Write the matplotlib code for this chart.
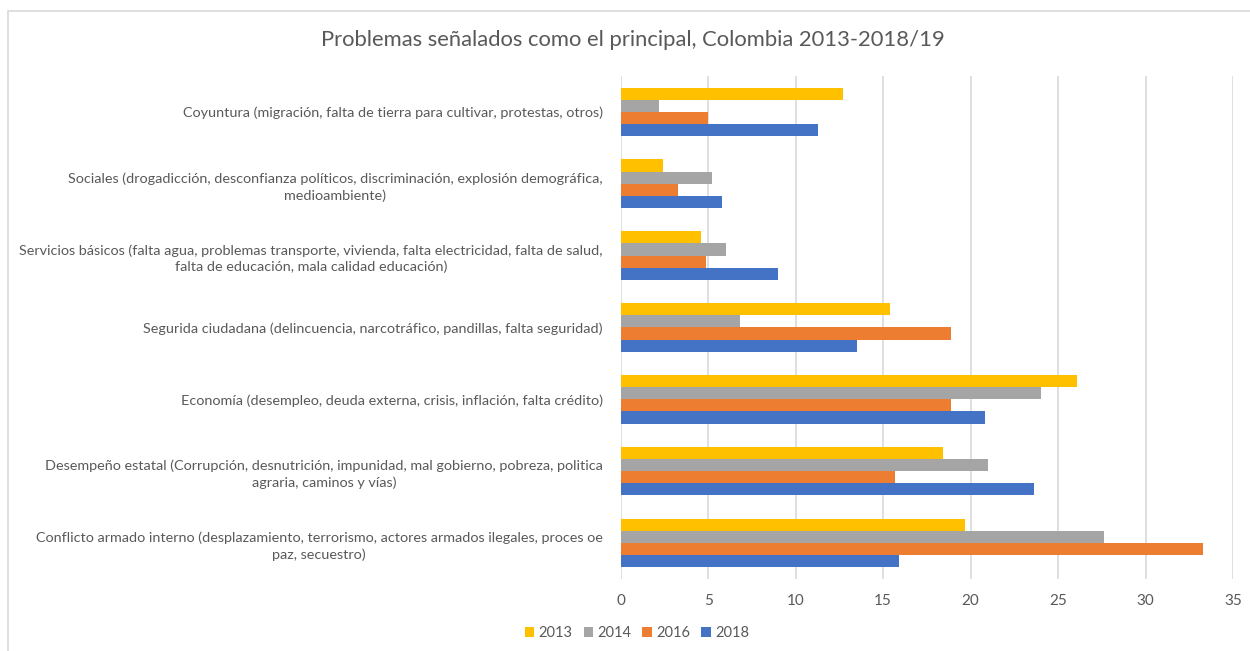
import matplotlib.pyplot as plt
import numpy as np
from matplotlib.patches import Patch, Rectangle

plt.rcParams['font.family'] = ['Lato', 'DejaVu Sans']

# categories, top to bottom
categories = [
    'Coyuntura (migración, falta de tierra para cultivar, protestas, otros)',
    'Sociales (drogadicción, desconfianza políticos, discriminación, explosión demográfica,\nmedioambiente)',
    'Servicios básicos (falta agua, problemas transporte, vivienda, falta electricidad, falta de salud,\nfalta de educación, mala calidad educación)',
    'Segurida ciudadana (delincuencia, narcotráfico, pandillas, falta seguridad)',
    'Economía (desempleo, deuda externa, crisis, inflación, falta crédito)',
    'Desempeño estatal (Corrupción, desnutrición, impunidad, mal gobierno, pobreza, politica\nagraria, caminos y vías)',
    'Conflicto armado interno (desplazamiento, terrorismo, actores armados ilegales, proces oe\npaz, secuestro)',
]

years = ['2013', '2014', '2016', '2018']
v2013 = [12.7, 2.4, 4.6, 15.4, 26.1, 18.4, 19.7]
v2014 = [2.2, 5.2, 6.0, 6.8, 24.0, 21.0, 27.6]
v2016 = [5.0, 3.3, 4.9, 18.9, 18.9, 15.7, 33.3]
v2018 = [11.3, 5.8, 9.0, 13.5, 20.8, 23.6, 15.9]
series = [v2013, v2014, v2016, v2018]
colors = ['#FFC000', '#A5A5A5', '#ED7D31', '#4472C4']

text_color = '#595959'
grid_color = '#D9D9D9'

fig = plt.figure(figsize=(12.5, 6.51), dpi=100)
ax = fig.add_axes([0.4966, 0.1106, 0.4898, 0.7727])

# thin frame around the whole chart
fig.patches.append(Rectangle((8 / 1250, -0.1), 1.2, 1 - 11 / 651 + 0.1,
                             transform=fig.transFigure, fill=False,
                             edgecolor='#D9D9D9', linewidth=1.2))

y = np.arange(len(categories))
h = 0.169
for i, (vals, col) in enumerate(zip(series, colors)):
    ax.barh(y + (i - 1.5) * h, vals, height=h, color=col, zorder=3)

ax.set_ylim(len(categories) - 0.5, -0.5)
ax.set_xlim(0, 35)
ax.set_xticks(np.arange(0, 36, 5))
ax.set_yticks(y)
ax.set_yticklabels(categories, multialignment='center', linespacing=1.4)
ax.tick_params(axis='y', length=0, pad=13, labelsize=10.35, labelcolor=text_color)
ax.tick_params(axis='x', length=0, pad=11, labelsize=11, labelcolor=text_color)

ax.grid(axis='x', color=grid_color, linewidth=1.2, zorder=0)
for s in ax.spines.values():
    s.set_visible(False)

fig.text(0.506, 1 - 40 / 651, 'Problemas señalados como el principal, Colombia 2013-2018/19',
         ha='center', va='center', fontsize=15.8, color=text_color)

handles = [Patch(facecolor=c, edgecolor='none') for c in colors]
fig.legend(handles, years, loc='center', bbox_to_anchor=(637 / 1250, 1 - 633 / 651),
           ncol=4, frameon=False, fontsize=10.5, labelcolor=text_color,
           handlelength=0.65, handleheight=0.65, handletextpad=0.3, columnspacing=0.75)

fig.savefig('out.png', dpi=100)
